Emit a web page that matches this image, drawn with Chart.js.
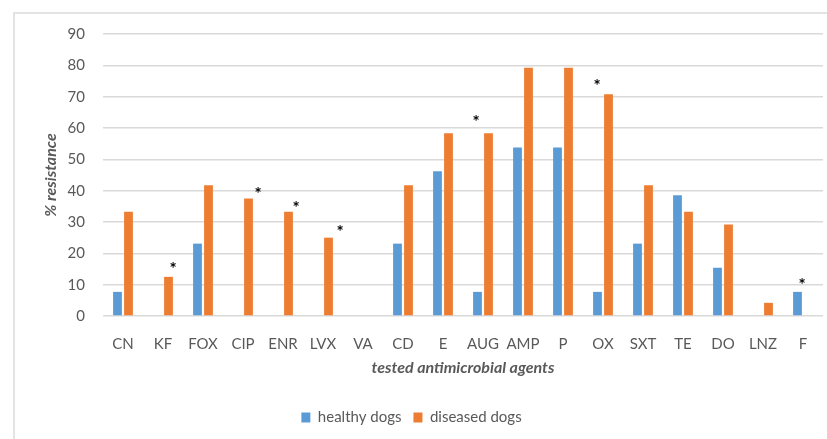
<!DOCTYPE html>
<html>
<head>
<meta charset="utf-8">
<script src="https://cdn.jsdelivr.net/npm/chart.js@4"></script>
<style>
  html, body { margin: 0; padding: 0; background: #fff; }
  #frame { position: absolute; left: 13px; top: 12px; width: 830px; height: 440px;
           border-left: 2px solid #e3e3e3; border-top: 2px solid #e3e3e3; }
  #wrap { position: absolute; left: 0; top: 0; width: 827px; height: 439px; }
</style>
</head>
<body>
<div id="frame"></div>
<div id="wrap"><canvas id="chart"></canvas></div>
<script>
// Antimicrobial resistance, healthy vs diseased dogs.
const agents = ["CN", "KF", "FOX", "CIP", "ENR", "LVX", "VA", "CD", "E", "AUG",
  "AMP", "P", "OX", "SXT", "TE", "DO", "LNZ", "F"];
const healthy = [7.7, 0, 23.1, 0, 0, 0, 0, 23.1, 46.2, 7.7,
  53.8, 53.8, 7.7, 23.1, 38.5, 15.4, 0, 7.7];
const diseased = [33.3, 12.5, 41.7, 37.5, 33.3, 25, 0, 41.7, 58.3, 58.3,
  79.2, 79.2, 70.8, 41.7, 33.3, 29.2, 4.2, 0];
// Height (in % units) of the significance asterisks, null where there is none.
const stars = [null, 16.2, null, 40.1, 35.7, 27.8, null, null, null, 63,
  null, null, 74.5, null, null, null, null, 11.1];
const yTicks = [0, 10, 20, 30, 40, 50, 60, 70, 80, 90];

// Horizontal nudge of each asterisk from its category centre (px).
const starShift = [0, 10, 0, 15, 13, 17, 0, 0, 0, -7, 0, 0, -6, 0, 0, 0, 0, -1];

const textGrey = "#595959";
const fontFamily = "Lato, 'Open Sans', sans-serif";

const starPlugin = {
  id: "stars",
  afterDatasetsDraw(chart) {
    const { ctx, scales } = chart;
    ctx.save();
    ctx.fillStyle = "#000";
    ctx.font = "bold 17px " + fontFamily;
    ctx.textAlign = "center";
    ctx.textBaseline = "middle";
    stars.forEach((v, i) => {
      if (v === null) return;
      const x = scales.x.getPixelForValue(i) + starShift[i];
      const y = scales.y.getPixelForValue(v);
      ctx.fillText("*", x, y + 4);
    });
    ctx.restore();
  }
};

new Chart(document.getElementById("chart"), {
  type: "bar",
  data: {
    labels: agents,
    datasets: [
      { label: "healthy dogs", data: healthy, backgroundColor: "#5B9BD5" },
      { label: "diseased dogs", data: diseased, backgroundColor: "#ED7D31" }
    ]
  },
  options: {
    responsive: true,
    maintainAspectRatio: false,
    animation: false,
    datasets: { bar: { categoryPercentage: 0.55, barPercentage: 0.8 } },
    layout: { padding: { top: 34, right: 4, bottom: 4, left: 0 } },
    plugins: {
      tooltip: { enabled: false },
      legend: {
        position: "bottom",
        labels: {
          color: textGrey,
          font: { family: fontFamily, size: 15 },
          boxWidth: 9,
          boxHeight: 10,
          padding: 12
        }
      }
    },
    scales: {
      x: {
        grid: { display: false },
        border: { display: false },
        ticks: { color: textGrey, font: { family: fontFamily, size: 15 }, padding: 11, maxRotation: 0 },
        title: {
          display: true,
          text: "tested antimicrobial agents",
          color: textGrey,
          font: { family: fontFamily, size: 16, weight: "bold", style: "italic" },
          padding: { top: 0, bottom: 21 }
        },
        afterFit(scale) { scale.height = 82; }
      },
      y: {
        min: 0,
        max: 90,
        afterBuildTicks(scale) { scale.ticks = yTicks.map(v => ({ value: v })); },
        grid: { color: "#d9d9d9", lineWidth: 1.5, drawTicks: false },
        border: { display: false },
        ticks: { color: textGrey, font: { family: fontFamily, size: 15 }, padding: 18 },
        title: {
          display: true,
          text: "% resistance",
          color: textGrey,
          font: { family: fontFamily, size: 16, weight: "bold", style: "italic" },
          padding: { top: 41, bottom: 0 }
        },
        afterFit(scale) { scale.width = 103; }
      }
    }
  },
  plugins: [starPlugin]
});
</script>
</body>
</html>
